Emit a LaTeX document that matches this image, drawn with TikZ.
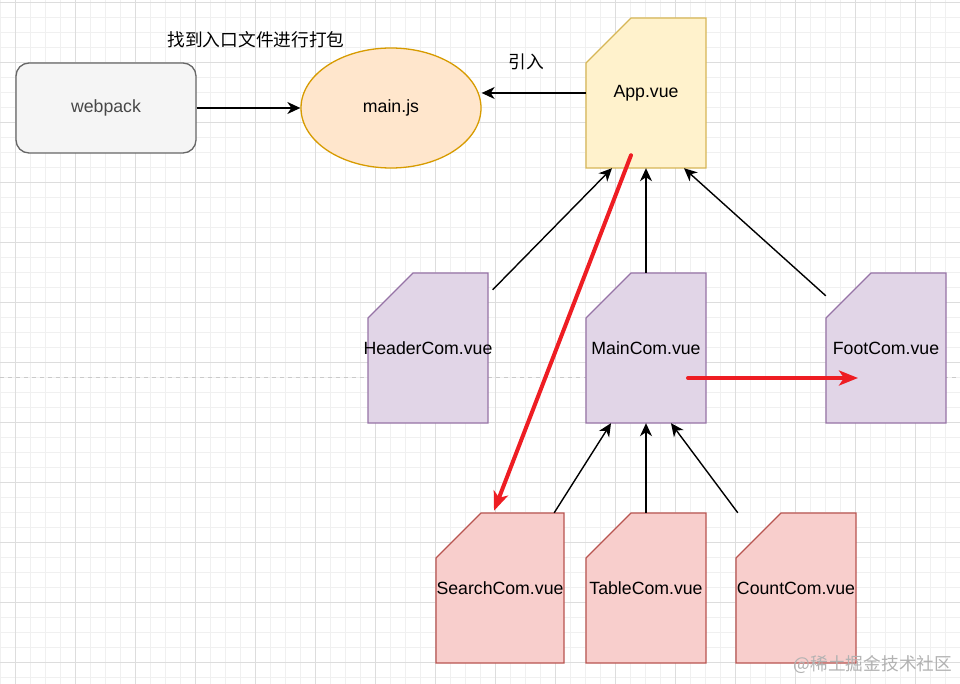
\documentclass[tikz,border=0pt]{standalone}
\usepackage{fontspec}
\setmainfont{Liberation Sans}
\newfontfamily\cjk{Noto Sans CJK SC}
\usetikzlibrary{shapes.geometric,arrows.meta}

\definecolor{gridminor}{HTML}{F0F0F0}
\definecolor{gridmajor}{HTML}{DDDDDD}
\definecolor{packfill}{HTML}{F5F5F5}
\definecolor{packline}{HTML}{666666}
\definecolor{jsfill}{HTML}{FFE6CC}
\definecolor{jsline}{HTML}{D79B00}
\definecolor{appfill}{HTML}{FFF2CC}
\definecolor{appline}{HTML}{D6B656}
\definecolor{comfill}{HTML}{E1D5E7}
\definecolor{comline}{HTML}{9673A6}
\definecolor{subfill}{HTML}{F8CECC}
\definecolor{subline}{HTML}{B85450}
\definecolor{flowred}{HTML}{EE1D23}

\tikzset{
  label/.style={font=\fontsize{17.7}{20}\selectfont, text=black, inner sep=0pt},
  cjklabel/.style={font=\cjk\fontsize{17.7}{20}\selectfont, text=black, inner sep=0pt},
  imports/.style={line width=1.4pt, -{Stealth[length=13pt,width=12pt,inset=4pt]}},
  flow/.style={draw=flowred, line width=4pt, line cap=round, -{Stealth[length=19pt,width=15pt,inset=5pt]}},
}

% #1 name, #2 fill, #3 line, #4 left, #5 top, #6 width, #7 text
\newcommand{\vuefile}[7]{%
\filldraw[fill=#2, draw=#3, line width=1.3pt] (#4+45,#5) -- (#4+#6,#5) -- (#4+#6,#5+150) -- (#4,#5+150) -- (#4,#5+45) -- cycle;
\node[label, minimum width=#6pt, minimum height=150pt] (#1) at (#4+#6/2,#5+75) {#7};
}

\begin{document}
\begin{tikzpicture}[x=1pt,y=-1pt]
\useasboundingbox (0,0) rectangle (960,684);
\fill[white] (0,0) rectangle (960,684);
{
\foreach \x in {0,15,...,960}{
\draw[gridminor, line width=0.8pt] (\x,0) -- (\x,684);
}
\foreach \y in {2,17,...,684}{
\draw[gridminor, line width=0.8pt] (0,\y) -- (960,\y);
}
\foreach \x in {15,75,...,960}{
\draw[gridmajor, line width=0.8pt] (\x,0) -- (\x,684);
}
\foreach \y in {2,62,...,684}{
\draw[gridmajor, line width=0.8pt] (0,\y) -- (960,\y);
}
}
\draw[gridmajor!80!gray, line width=1pt, dash pattern=on 4pt off 4pt] (0,377) -- (960,377);
%
\node[label, text=packline!70!black, draw=packline, fill=packfill, line width=1.3pt, rounded corners=13pt,
  minimum width=180pt, minimum height=90pt] (webpack) at (106,108) {webpack};
\node[label, ellipse, draw=jsline, fill=jsfill, line width=1.3pt,
  minimum width=180pt, minimum height=120pt] (mainjs) at (391,108) {main.js};
\node[cjklabel] (pack) at (256,40) {找到入口文件进行打包};
%
\vuefile{app}{appfill}{appline}{586}{18}{120}{App.vue}
\vuefile{header}{comfill}{comline}{368}{273}{120}{HeaderCom.vue}
\vuefile{maincom}{comfill}{comline}{586}{273}{120}{MainCom.vue}
\vuefile{foot}{comfill}{comline}{826}{273}{120}{FootCom.vue}
\vuefile{search}{subfill}{subline}{436}{513}{128}{SearchCom.vue}
\vuefile{table}{subfill}{subline}{586}{513}{120}{TableCom.vue}
\vuefile{count}{subfill}{subline}{736}{513}{120}{CountCom.vue}
%
\draw[imports] (webpack.east) -- (mainjs.west);
\draw[imports] (app.west) -- (app.west -| mainjs.east);
\node[cjklabel] (import) at (526,62) {引入};
\draw[imports] ([yshift=-17pt]header.north east) -- ([xshift=-34pt]app.south);
\draw[imports] (maincom.north) -- (app.south);
\draw[imports] ([yshift=-23pt]foot.north west) -- ([xshift=38pt]app.south);
\draw[imports] ([xshift=-10pt]search.north east) -- ([xshift=-35pt]maincom.south);
\draw[imports] (table.north) -- (maincom.south);
\draw[imports] ([xshift=2pt]count.north west) -- ([xshift=25pt]maincom.south);
%
\draw[flow] ([xshift=-15pt,yshift=13pt]app.south) -- ([xshift=-6pt,yshift=2pt]search.north);
\draw[flow] ([xshift=42pt,yshift=-30pt]maincom.center) -- ([xshift=-28pt,yshift=-30pt]foot.center);
%
\node[cjklabel, text=black!30] (site) at (873,665) {@稀土掘金技术社区};
\end{tikzpicture}
\end{document}
